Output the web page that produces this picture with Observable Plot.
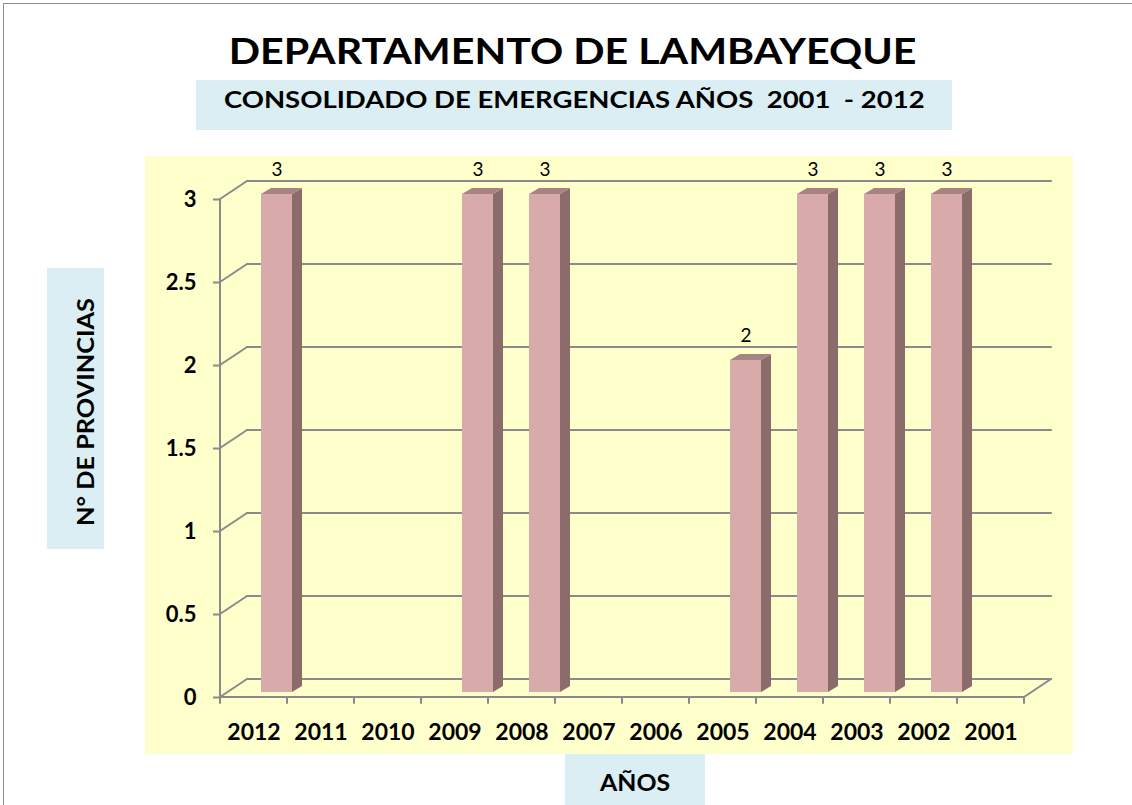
<!DOCTYPE html>
<html>
<head>
<meta charset="utf-8">
<script src="https://cdn.jsdelivr.net/npm/d3@7"></script>
<script src="https://cdn.jsdelivr.net/npm/@observablehq/plot@0.6"></script>
<style>
  body { margin: 0; background: #fff; font-family: Lato, "Open Sans", sans-serif; }
  #page { position: relative; width: 1132px; height: 805px; overflow: hidden; background: #fff; }
  #border { position: absolute; left: 3px; top: 3px; width: 1200px; height: 900px;
            border-top: 1.5px solid #8c8c8c; border-left: 1.5px solid #8c8c8c; }
  #title { position: absolute; left: 0; width: 1146px; top: 32px; text-align: center;
           font-weight: 700; font-size: 36px; line-height: 36px; color: #000; white-space: nowrap; }
  #title span { display: inline-block; transform: scaleX(1.144); }
  #subbox { position: absolute; left: 196px; top: 80px; width: 756px; height: 50px; background: #DAEEF3;
            text-align: center; font-weight: 700; font-size: 22px; line-height: 40px; white-space: pre; }
  #subbox span { display: inline-block; transform: scaleX(1.25); }
  #ybox { position: absolute; left: 47px; top: 268px; width: 57px; height: 281px; background: #DAEEF3; }
  #ytext { position: absolute; left: 85.5px; top: 412px;
           transform: translate(-50%, -50%) rotate(-90deg) scaleX(1.15);
           font-weight: 700; font-size: 22px; line-height: 22px; white-space: nowrap; }
  #xbox { position: absolute; left: 565px; top: 754px; width: 140px; height: 60px; background: #DAEEF3;
          text-align: center; font-weight: 700; font-size: 22px; line-height: 58px; }
  #xbox span { display: inline-block; transform: scaleX(1.13); }
  #chart { position: absolute; left: 145px; top: 156px; }
</style>
</head>
<body>
<div id="page">
  <div id="border"></div>
  <div id="title"><span>DEPARTAMENTO DE LAMBAYEQUE</span></div>
  <div id="subbox"><span>CONSOLIDADO DE EMERGENCIAS AÑOS  2001  - 2012</span></div>
  <div id="ybox"></div>
  <div id="ytext">N° DE PROVINCIAS</div>
  <div id="xbox"><span>AÑOS</span></div>
  <div id="chart"></div>
</div>
<script>
// ---- data ----
const years = ["2012", "2011", "2010", "2009", "2008", "2007", "2006", "2005", "2004", "2003", "2002", "2001"];
const provincias = [3, null, null, 3, 3, null, null, 2, 3, 3, 3, null];
const yTicks = [0, 0.5, 1, 1.5, 2, 2.5, 3];

const rows = years.map((year, i) => ({year, value: provincias[i]}));
const bars = rows.filter(d => d.value != null);

const gridColor = "#8a8a8a";
const depthX = 27, depthY = -18;   // back-wall offset (pseudo 3D)
const barDX = 23, barDY = -5;      // bar plane offset
const sideX = 10, sideY = -6;      // bar thickness

function wall(index, scales, values, dims, context) {
  const g = d3.create("svg:g");
  const L = dims.marginLeft, R = dims.width - dims.marginRight;
  const y0 = scales.y(0), yTop = scales.y(yTicks[yTicks.length - 1]);
  const line = (x1, y1, x2, y2) => g.append("line")
    .attr("x1", x1).attr("y1", y1).attr("x2", x2).attr("y2", y2)
    .attr("stroke", gridColor).attr("stroke-width", 2).attr("stroke-linecap", "round");
  for (const i of index) {
    const y = values.y[i];
    line(L + depthX, y + depthY, R + depthX, y + depthY);
    line(L, y, L + depthX, y + depthY);
  }
  // floor front edge and right edge
  line(L, y0, R, y0);
  line(R, y0, R + depthX, y0 + depthY);
  // left vertical axis
  line(L, yTop, L, y0);
  // category ticks at band edges
  const step = scales.x(years[1]) - scales.x(years[0]);
  const edges = years.map(y => scales.x(y)).concat([scales.x(years[years.length - 1]) + step]);
  for (const e of edges) line(e, y0, e, y0 + 6);
  return g.node();
}

function bars3d(index, scales, values, dims, context, next) {
  const g = next(index, scales, values, dims, context);
  const sel = d3.select(g);
  sel.selectAll("rect").each(function () {
    const r = d3.select(this);
    const x = +r.attr("x"), y = +r.attr("y"), w = +r.attr("width"), h = +r.attr("height");
    sel.append("polygon")
      .attr("points", [[x + w, y], [x + w + sideX, y + sideY], [x + w + sideX, y + h + sideY], [x + w, y + h]].join(" "))
      .attr("fill", "#8C6B6B");
    sel.append("polygon")
      .attr("points", [[x, y], [x + sideX, y + sideY], [x + w + sideX, y + sideY], [x + w, y]].join(" "))
      .attr("fill", "#A88383");
  });
  return g;
}

const chart = Plot.plot({
  width: 928,
  height: 598,
  marginLeft: 75,
  marginRight: 49,
  marginTop: 43,
  marginBottom: 57,
  style: {background: "#FFFFCC", fontFamily: "Lato, sans-serif", overflow: "visible", color: "#000"},
  x: {domain: years, padding: 0, label: null},
  y: {domain: [0, 3], label: null},
  marks: [
    Plot.ruleY(yTicks, {y: d => d, render: wall}),
    Plot.axisY(yTicks, {tickSize: 7, tickPadding: 17, fontSize: 22, fontWeight: "bold",
                        stroke: gridColor, strokeWidth: 2, label: null, tickFormat: d => String(d)}),
    Plot.axisX({tickSize: 0, tickPadding: 26, fontSize: 23, fontWeight: "bold", label: null}),
    Plot.barY(bars, {x: "year", y: "value", fill: "#D9AAAA", insetLeft: 18, insetRight: 18,
                     dx: barDX, dy: barDY, render: bars3d}),
    Plot.text(bars, {x: "year", y: "value", text: d => String(d.value), dx: barDX, dy: -30,
                     fontSize: 19, fill: "#000"})
  ]
});
document.getElementById("chart").appendChild(chart);
</script>
</body>
</html>
